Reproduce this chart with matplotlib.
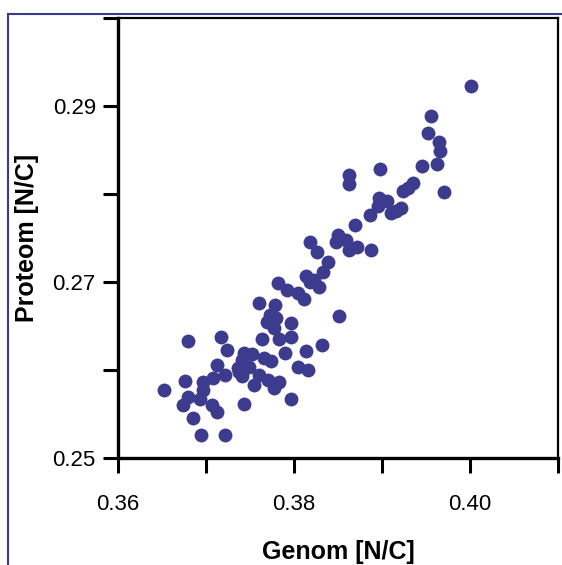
import matplotlib.pyplot as plt
from matplotlib.lines import Line2D

plt.rcParams['font.family'] = ['Liberation Sans', 'DejaVu Sans']

# genome vs proteome N/C ratios
genom = [0.4001, 0.3956, 0.3952, 0.3965, 0.3966, 0.3963, 0.3945, 0.3970, 0.3898, 0.3863,
         0.3863, 0.3935, 0.3929, 0.3924, 0.3896, 0.3906, 0.3895, 0.3922, 0.3916, 0.3910,
         0.3886, 0.3869, 0.3850, 0.3848, 0.3859, 0.3862, 0.3871, 0.3888, 0.3818, 0.3826,
         0.3839, 0.3833, 0.3814, 0.3823, 0.3828, 0.3818, 0.3782, 0.3792, 0.3804, 0.3811,
         0.3760, 0.3778, 0.3851, 0.3769, 0.3780, 0.3777, 0.3797, 0.3764, 0.3783, 0.3796,
         0.3832, 0.3814, 0.3790, 0.3680, 0.3717, 0.3724, 0.3743, 0.3752, 0.3741, 0.3766,
         0.3774, 0.3804, 0.3816, 0.3712, 0.3736, 0.3749, 0.3721, 0.3708, 0.3741, 0.3760,
         0.3676, 0.3696, 0.3770, 0.3783, 0.3755, 0.3777, 0.3652, 0.3696, 0.3679, 0.3693,
         0.3674, 0.3707, 0.3743, 0.3797, 0.3712, 0.3685, 0.3694, 0.3721, 0.3773, 0.3738]
proteom = [0.2923, 0.2889, 0.2870, 0.2859, 0.2849, 0.2834, 0.2832, 0.2802, 0.2828, 0.2822,
           0.2812, 0.2813, 0.2807, 0.2804, 0.2796, 0.2792, 0.2787, 0.2784, 0.2781, 0.2778,
           0.2776, 0.2765, 0.2754, 0.2746, 0.2748, 0.2737, 0.2740, 0.2736, 0.2746, 0.2734,
           0.2723, 0.2711, 0.2707, 0.2703, 0.2695, 0.2700, 0.2699, 0.2691, 0.2688, 0.2681,
           0.2676, 0.2674, 0.2662, 0.2655, 0.2659, 0.2648, 0.2654, 0.2635, 0.2635, 0.2638,
           0.2629, 0.2622, 0.2619, 0.2633, 0.2638, 0.2623, 0.2619, 0.2618, 0.2612, 0.2614,
           0.2610, 0.2604, 0.2600, 0.2606, 0.2602, 0.2604, 0.2595, 0.2591, 0.2593, 0.2595,
           0.2588, 0.2587, 0.2589, 0.2587, 0.2583, 0.2580, 0.2578, 0.2577, 0.2569, 0.2567,
           0.2560, 0.2561, 0.2562, 0.2567, 0.2552, 0.2546, 0.2526, 0.2526, 0.2663, 0.2598]

x_ticks = [0.36, 0.37, 0.38, 0.39, 0.40, 0.41]
x_labels = ['0.36', '', '0.38', '', '0.40', '']
y_ticks = [0.25, 0.26, 0.27, 0.28, 0.29, 0.30]
y_labels = ['0.25', '', '0.27', '', '0.29', '']

fig = plt.figure(figsize=(5.62, 5.65), dpi=100)
ax = fig.add_axes([0.210, 0.189, 0.783, 0.779])

ax.scatter(genom, proteom, s=100, color='#3d3b8e', linewidths=0, zorder=3)

ax.set_xlim(0.36, 0.41)
ax.set_ylim(0.25, 0.30)
ax.set_xticks(x_ticks)
ax.set_xticklabels(x_labels)
ax.set_yticks(y_ticks)
ax.set_yticklabels(y_labels)
ax.tick_params(axis='both', direction='out', length=11, width=2.2, labelsize=16)
ax.tick_params(axis='x', pad=15)
ax.tick_params(axis='y', pad=5)

for side in ['left', 'bottom']:
    ax.spines[side].set_linewidth(2.4)
for side in ['top', 'right']:
    ax.spines[side].set_linewidth(1.6)

ax.set_xlabel('Genom [N/C]', fontsize=18, fontweight='bold', labelpad=18)
ax.set_ylabel('Proteom [N/C]', fontsize=18, fontweight='bold', labelpad=10)

# blue frame around the figure (left and top edges visible)
fig.add_artist(Line2D([8 / 562, 8 / 562], [0, 1 - 14 / 565], color='#3b3a8e', lw=1.5))
fig.add_artist(Line2D([8 / 562, 1], [1 - 14 / 565, 1 - 14 / 565], color='#3b3a8e', lw=1.5))

fig.savefig('out.png', dpi=100)
